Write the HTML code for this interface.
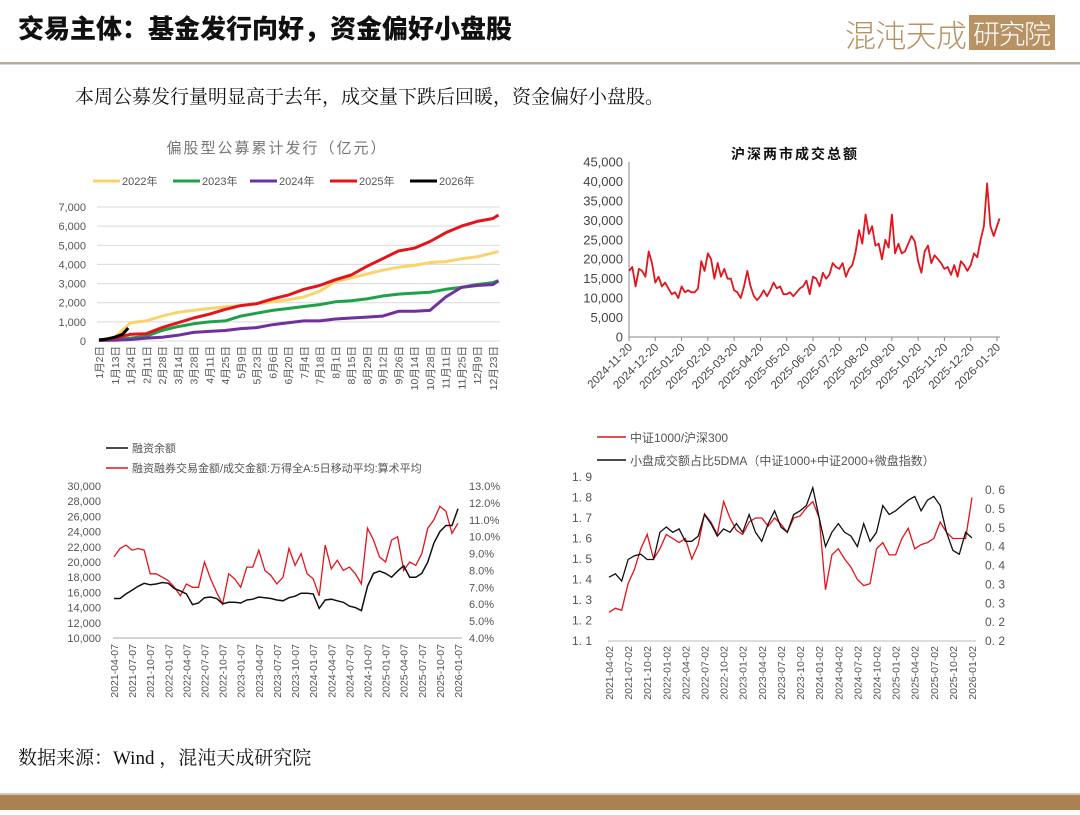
<!DOCTYPE html>
<html><head><meta charset="utf-8"><style>
html,body{margin:0;padding:0;background:#fff;}
body{width:1080px;height:810px;overflow:hidden;position:relative;font-family:"Liberation Sans","Noto Sans CJK SC",sans-serif;}
svg text{font-family:"Liberation Sans","Noto Sans CJK SC",sans-serif;}
</style></head><body>
<svg id="page" width="1080" height="810" viewBox="0 0 1080 810" xmlns="http://www.w3.org/2000/svg">
<text x="18" y="38" font-size="26" font-weight="900" fill="#111" style="font-family:'Noto Sans CJK SC',sans-serif">交易主体：基金发行向好，资金偏好小盘股</text>
<g>
<text x="845" y="47" font-size="31" fill="#b89263" style="font-family:'Noto Sans CJK SC',sans-serif;font-weight:300" textLength="122">混沌天成</text>
<rect x="969" y="15" width="86" height="35" fill="#b89263"/>
<text x="973" y="44" font-size="27" fill="#fff" style="font-family:'Noto Sans CJK SC',sans-serif;font-weight:300" textLength="78">研究院</text>
</g>
<rect x="0" y="62" width="1080" height="2.5" fill="#b9ab9a"/>
<text x="75" y="103" font-size="19" fill="#111" style="font-family:'Noto Serif CJK SC',serif">本周公募发行量明显高于去年，成交量下跌后回暖，资金偏好小盘股。</text>
<text x="18" y="764" font-size="19" fill="#111" style="font-family:'Liberation Serif','Noto Serif CJK SC',serif">数据来源：Wind ，混沌天成研究院</text>
<rect x="0" y="795" width="1080" height="15" fill="#aa8252"/>
<rect x="0" y="793" width="1080" height="2" fill="#d8c8b0"/>
<g id="c1"></g>
<g id="c2"></g>
<g id="c3"></g>
<g id="c4"></g>
</svg>
<script>
// ---- Chart 1 data
const c1Cats=["1月2日","1月13日","1月24日","2月11日","2月28日","3月14日","3月28日","4月11日","4月25日","5月9日","5月23日","6月6日","6月20日","7月4日","7月18日","8月1日","8月15日","8月29日","9月12日","9月26日","10月14日","10月28日","11月11日","11月25日","12月9日","12月23日"];
const c1Y2022=[50,200,950,1050,1300,1500,1600,1700,1780,1850,1950,2050,2150,2300,2600,3100,3300,3500,3700,3850,3950,4100,4150,4300,4400,4600,4680];
const c1Y2023=[30,80,150,250,550,750,900,1000,1050,1300,1450,1600,1700,1800,1900,2050,2100,2200,2350,2450,2500,2550,2700,2800,2950,3050,3150];
const c1Y2024=[30,40,80,150,200,300,450,500,550,650,700,850,950,1050,1050,1150,1200,1250,1300,1550,1550,1600,2300,2800,2900,2950,3150];
const c1Y2025=[50,150,350,380,700,950,1200,1400,1650,1850,1950,2200,2400,2700,2900,3200,3450,3900,4300,4700,4850,5200,5650,6000,6250,6400,6580];
const c1Y2026X=[0,0.5,1,1.5,1.85];
const c1Y2026=[50,100,200,350,680];
const c1Ticks=[0,1000,2000,3000,4000,5000,6000,7000];
// ---- Chart 2 data
const c2Labels=["2024-11-20","2024-12-20","2025-01-20","2025-02-20","2025-03-20","2025-04-20","2025-05-20","2025-06-20","2025-07-20","2025-08-20","2025-09-20","2025-10-20","2025-11-20","2025-12-20","2026-01-20"];
const c2Values=[17000,18000,13000,17500,17000,15500,22000,19000,
14000,15500,13000,14000,12500,11000,11500,10000,
13000,11500,12000,11500,11500,12500,19500,17000,
21500,20000,15000,19000,15500,17500,15000,15000,
12000,11500,10000,13000,17000,13000,10500,9500,
10500,12000,10500,12000,14000,12500,13000,11000,
11000,11500,10500,11500,12500,13000,14500,11000,
15500,15000,13000,16500,15000,16000,19000,18000,
17500,19000,15500,17500,18500,22000,27500,24000,
31500,26500,28500,23500,24000,20000,25000,23000,
31500,21500,24000,21500,22000,24000,26000,24500,
19500,16500,22000,23500,19000,21000,20000,19000,
17500,18000,16000,18500,15500,19500,18500,17000,
18500,21500,20500,25000,28500,39500,28500,26000,30500];
const c2Ticks=[0,5000,10000,15000,20000,25000,30000,35000,40000,45000];
// ---- Chart 3 data (monthly, from 2021-04)
const c3Labels=["2021-04-07","2021-07-07","2021-10-07","2022-01-07","2022-04-07","2022-07-07","2022-10-07","2023-01-07","2023-04-07","2023-07-07","2023-10-07","2024-01-07","2024-04-07","2024-07-07","2024-10-07","2025-01-07","2025-04-07","2025-07-07","2025-10-07","2026-01-07"];
const c3Balance=[15200,15200,15800,16300,16800,17200,17000,17100,17300,17200,16500,16200,15800,14400,14600,15300,15400,15200,14500,14700,14700,14600,15000,15100,15400,15300,15200,15000,14900,15300,15500,15900,15900,15800,13900,15000,15100,14900,14700,14200,14000,13600,16800,18500,18800,18500,18000,18800,19500,18000,18000,18500,20000,22500,24000,24800,24800,27000];
const c3Ratio=[8.8,9.3,9.5,9.2,9.3,9.2,7.8,7.8,7.6,7.4,7.0,6.5,7.2,7.0,7.0,8.5,7.5,6.7,6.0,7.8,7.5,7.0,8.2,8.2,9.2,8.0,7.7,7.2,7.6,9.3,8.3,9.0,7.8,7.5,6.5,9.5,8.1,8.6,8.0,8.2,7.8,7.2,10.5,9.8,8.8,8.5,9.8,10.0,8.0,8.5,8.3,9.0,10.5,11.0,11.8,11.5,10.2,10.8];
const c3LeftTicks=[10000,12000,14000,16000,18000,20000,22000,24000,26000,28000,30000];
const c3RightTicks=[4,5,6,7,8,9,10,11,12,13];
// ---- Chart 4 data (monthly, from 2021-04)
const c4Labels=["2021-04-02","2021-07-02","2021-10-02","2022-01-02","2022-04-02","2022-07-02","2022-10-02","2023-01-02","2023-04-02","2023-07-02","2023-10-02","2024-01-02","2024-04-02","2024-07-02","2024-10-02","2025-01-02","2025-04-02","2025-07-02","2025-10-02","2026-01-02"];
const c4Ratio=[1.24,1.26,1.25,1.38,1.45,1.55,1.62,1.50,1.55,1.62,1.60,1.58,1.60,1.50,1.57,1.72,1.68,1.62,1.78,1.70,1.64,1.62,1.68,1.70,1.70,1.66,1.70,1.67,1.63,1.70,1.71,1.75,1.78,1.70,1.35,1.52,1.55,1.50,1.46,1.40,1.37,1.38,1.55,1.58,1.52,1.52,1.60,1.65,1.55,1.57,1.58,1.60,1.68,1.63,1.60,1.60,1.60,1.80];
const c4Share=[0.369,0.378,0.359,0.416,0.426,0.43,0.416,0.416,0.488,0.502,0.488,0.497,0.464,0.464,0.478,0.535,0.511,0.478,0.497,0.488,0.511,0.488,0.535,0.488,0.464,0.511,0.545,0.502,0.488,0.535,0.545,0.559,0.606,0.526,0.45,0.488,0.511,0.488,0.478,0.45,0.511,0.464,0.488,0.559,0.535,0.545,0.559,0.573,0.583,0.545,0.573,0.583,0.559,0.488,0.44,0.43,0.488,0.473];
const c4LeftTicks=[1.1,1.2,1.3,1.4,1.5,1.6,1.7,1.8,1.9];
const c4RightTicks=[0.2,0.25,0.3,0.35,0.4,0.45,0.5,0.55,0.6];

const NS="http://www.w3.org/2000/svg";
function mk(parent,tag,attrs,txt){const e=document.createElementNS(NS,tag);for(const k in attrs)e.setAttribute(k,attrs[k]);if(txt!==undefined)e.textContent=txt;parent.appendChild(e);return e;}
function lin(d0,d1,r0,r1){return v=>r0+(v-d0)/(d1-d0)*(r1-r0);}
function pathD(xs,ys){return xs.map((x,i)=>(i?"L":"M")+x.toFixed(1)+","+ys[i].toFixed(1)).join("");}
function fmt(v){return v.toLocaleString("en-US");}
const GRAY="#555";

// ===== Chart 1
(function(){
 const g=document.getElementById('c1');
 const x=lin(0,25,99,493), y=lin(0,7000,341,207);
 const t=mk(g,'text',{x:277,y:153,'font-size':15,fill:'#777','text-anchor':'middle','letter-spacing':'2'},'偏股型公募累计发行（亿元）');
 
 c1Ticks.forEach(v=>{
  const l=mk(g,'line',{x1:97,x2:500,y1:y(v),y2:y(v),stroke:'#d9d9d9','stroke-width':1});
  
  const tx=mk(g,'text',{x:86,y:y(v)+4,'font-size':11,fill:GRAY,'text-anchor':'end'},fmt(v));
  
 });
 c1Cats.forEach((c,i)=>{
  const tx=mk(g,'text',{x:0,y:0,'font-size':10.5,fill:GRAY,'text-anchor':'end',transform:`translate(${x(i)+4},346) rotate(-90)`},c);
  
 });
 const series=[["2022年",c1Y2022,'#f9d36c'],["2023年",c1Y2023,'#1fa14a'],["2024年",c1Y2024,'#7030a0'],["2025年",c1Y2025,'#e3141c']];
 series.forEach((s,k)=>{
  const xs=s[1].map((v,i)=>x(i===26?25.35:i));
  const p=mk(g,'path',{d:pathD(xs,s[1].map(y)),fill:'none',stroke:s[2],'stroke-width':3,'stroke-linejoin':'round'});
  
 });
 const p6=mk(g,'path',{d:pathD(c1Y2026X.map(x),c1Y2026.map(y)),fill:'none',stroke:'#000','stroke-width':3});
 
 const leg=[["2022年",'#f9d36c',93],["2023年",'#1fa14a',173],["2024年",'#7030a0',250],["2025年",'#e3141c',330],["2026年",'#000',410]];
 leg.forEach(l=>{
  const lg=mk(g,'g',{});
  
  mk(lg,'line',{x1:l[2],x2:l[2]+27,y1:181,y2:181,stroke:l[1],'stroke-width':3});
  mk(lg,'text',{x:l[2]+29,y:185,'font-size':11,fill:GRAY},l[0]);
 });
})();

// ===== Chart 2
(function(){
 const g=document.getElementById('c2');
 const x=lin(0,14,629,997), y=lin(0,45000,337,162);
 const t=mk(g,'text',{x:795,y:159,'font-size':14,'font-weight':'bold',fill:'#111','text-anchor':'middle','letter-spacing':'2'},'沪深两市成交总额');
 
 const ax=mk(g,'path',{d:`M629,162V337H1000`,fill:'none',stroke:'#888','stroke-width':1});
 
 c2Ticks.forEach(v=>{
  const tx=mk(g,'text',{x:623,y:y(v)+4.5,'font-size':13,fill:'#444','text-anchor':'end'},fmt(v));
  
 });
 c2Labels.forEach((c,i)=>{
  mk(g,'line',{x1:x(i),x2:x(i),y1:337,y2:341,stroke:'#888'});
  const tx=mk(g,'text',{x:0,y:0,'font-size':11.5,fill:'#444','text-anchor':'end',transform:`translate(${x(i)+4},348) rotate(-45)`},c);
  
 });
 const xs=c2Values.map((v,i)=>x(i===112?14.1:i/8));
 const p=mk(g,'path',{d:pathD(xs,c2Values.map(y)),fill:'none',stroke:'#e3141c','stroke-width':1.8,'stroke-linejoin':'round'});
 
})();

// ===== Chart 3
(function(){
 const g=document.getElementById('c3');
 const x=lin(0,57,114,458), yl=lin(10000,30000,638,486), yr=lin(4,13,638,486);
 const lg1=mk(g,'g',{});
 mk(lg1,'line',{x1:106,x2:128,y1:448,y2:448,stroke:'#111','stroke-width':1.5});
 mk(lg1,'text',{x:132,y:452,'font-size':11,fill:GRAY},'融资余额');
 const lg2=mk(g,'g',{});
 mk(lg2,'line',{x1:106,x2:128,y1:468,y2:468,stroke:'#e3141c','stroke-width':1.5});
 mk(lg2,'text',{x:132,y:472,'font-size':11,fill:GRAY},'融资融券交易金额/成交金额:万得全A:5日移动平均:算术平均');
 const ax=mk(g,'line',{x1:113,x2:462,y1:638,y2:638,stroke:'#aaa'});
 
 c3LeftTicks.forEach(v=>{
  const tx=mk(g,'text',{x:101,y:yl(v)+4,'font-size':11,fill:GRAY,'text-anchor':'end'},fmt(v));
  
 });
 c3RightTicks.forEach(v=>{
  const tx=mk(g,'text',{x:469,y:yr(v)+4,'font-size':11,fill:GRAY},v.toFixed(1)+'%');
  
 });
 c3Labels.forEach((c,i)=>{
  const tx=mk(g,'text',{x:0,y:0,'font-size':10.5,fill:GRAY,'text-anchor':'end',transform:`translate(${x(i*3)+4},644) rotate(-90)`},c);
  
 });
 const pr=mk(g,'path',{d:pathD(c3Ratio.map((v,i)=>x(i)),c3Ratio.map(yr)),fill:'none',stroke:'#e3141c','stroke-width':1.3});
 
 const pb=mk(g,'path',{d:pathD(c3Balance.map((v,i)=>x(i)),c3Balance.map(yl)),fill:'none',stroke:'#111','stroke-width':1.5});
 
})();

// ===== Chart 4
(function(){
 const g=document.getElementById('c4');
 const x=lin(0,57,609,972), yl=lin(1.1,1.9,641,477), yr=lin(0.2,0.6,641,490);
 const lg1=mk(g,'g',{});
 mk(lg1,'line',{x1:597,x2:626,y1:437,y2:437,stroke:'#e3141c','stroke-width':1.5});
 mk(lg1,'text',{x:630,y:442,'font-size':12,fill:GRAY},'中证1000/沪深300');
 const lg2=mk(g,'g',{});
 mk(lg2,'line',{x1:597,x2:626,y1:460,y2:460,stroke:'#111','stroke-width':1.5});
 mk(lg2,'text',{x:630,y:465,'font-size':12,fill:GRAY},'小盘成交额占比5DMA（中证1000+中证2000+微盘指数）');
 const ax=mk(g,'line',{x1:608,x2:976,y1:641,y2:641,stroke:'#bbb'});
 
 c4LeftTicks.forEach(v=>{
  const tx=mk(g,'text',{x:592,y:yl(v)+4,'font-size':12,fill:GRAY,'text-anchor':'end'},v.toFixed(1).replace('.','. '));
  
 });
 c4RightTicks.forEach(v=>{
  const tx=mk(g,'text',{x:985,y:yr(v)+4,'font-size':12,fill:GRAY},(Math.floor(v*10+1e-9)/10).toFixed(1).replace('.','. '));
  
 });
 c4Labels.forEach((c,i)=>{
  const tx=mk(g,'text',{x:0,y:0,'font-size':10.5,fill:GRAY,'text-anchor':'end',transform:`translate(${x(i*3)+4},646) rotate(-90)`},c);
  
 });
 const pr=mk(g,'path',{d:pathD(c4Ratio.map((v,i)=>x(i)),c4Ratio.map(yl)),fill:'none',stroke:'#e3141c','stroke-width':1.3});
 
 const pb=mk(g,'path',{d:pathD(c4Share.map((v,i)=>x(i)),c4Share.map(yr)),fill:'none',stroke:'#111','stroke-width':1.3});
 
})();
</script>
</body></html>
